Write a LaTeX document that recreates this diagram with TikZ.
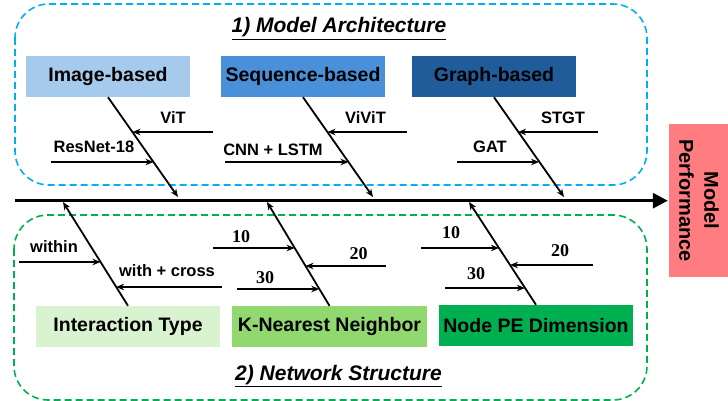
\documentclass[tikz,border=0pt]{standalone}
\usepackage{fontspec}
\setmainfont{Liberation Sans}
\newfontfamily\numfont{Liberation Serif}
\usetikzlibrary{arrows.meta,positioning,calc}
\definecolor{archblue}{HTML}{00B0F0}
\definecolor{netgreen}{HTML}{00B050}
\definecolor{imgc}{HTML}{A6CAEC}
\definecolor{seqc}{HTML}{4A90D9}
\definecolor{grc}{HTML}{1F5C99}
\definecolor{intc}{HTML}{D9F2D0}
\definecolor{knnc}{HTML}{92D870}
\definecolor{pec}{HTML}{00B050}
\definecolor{perfc}{HTML}{FF7C80}
\tikzset{
  cause/.style={minimum height=41pt,inner sep=0pt,font=\bfseries\fontsize{19.5}{22}\selectfont},
  bone/.style={line width=1.8pt,-{Stealth[length=8pt,width=6.5pt]}},
  twig/.style={line width=1.8pt,-{Stealth[length=8pt,width=6.5pt]}},
  lbl/.style={anchor=base,inner sep=0pt,font=\bfseries\fontsize{16.5}{18}\selectfont},
  numlbl/.style={anchor=base,inner sep=0pt,font=\numfont\bfseries\fontsize{18}{19}\selectfont},
  group/.style={line width=1.6pt,dash pattern=on 7pt off 4pt,rounded corners=34pt},
  grouptitle/.style={anchor=base,inner sep=0pt,font=\bfseries\itshape\fontsize{21}{24}\selectfont}
}
\begin{document}
\begin{tikzpicture}[x=1pt,y=-1pt]
\useasboundingbox (0,0) rectangle (728,401);
% group frames
\draw[group,archblue] (15,4) rectangle (647,185);
\draw[group,netgreen] (14,215) rectangle (647,400);
\node[grouptitle] (t1) at (339,33) {\underline{1) Model Architecture}};
\node[grouptitle] (t2) at (338.5,380) {\underline{2) Network Structure}};
% effect and spine
\node[fill=perfc,minimum width=153pt,minimum height=60pt,inner sep=0pt,rotate=-90,align=center,
  font=\bfseries\fontsize{20}{25}\selectfont] (perf) at (699,200.5) {Model\\Performance};
\coordinate (spineS) at (15,200.7);
\draw[line width=3pt,-{Triangle[length=15pt,width=15pt]},shorten >=1pt] (spineS) -- (perf.south |- spineS);
% causes
\node[cause,fill=imgc,minimum width=164pt] (img) at (108,76.5) {Image-based};
\node[cause,fill=seqc,minimum width=164pt] (seq) at (303,76.5) {Sequence-based};
\node[cause,fill=grc,minimum width=164pt] (gr) at (494,76.5) {Graph-based};
\node[cause,fill=intc,minimum width=184pt] (inter) at (128,326.5) {Interaction Type};
\node[cause,fill=knnc,minimum width=195pt] (knn) at (329.5,326.5) {K-Nearest Neighbor};
\node[cause,fill=pec,minimum width=194pt] (pe) at (536,325.5) {Node PE Dimension};
% bone tips on the spine
\foreach \n/\x/\y in {imgT/178/197,seqT/373/197,grT/564/197,interT/63/202,knnT/267/202,peT/469/202}
  \coordinate (\n) at (\x,\y);
\draw[bone] (img.south) -- (imgT);
\draw[bone] (seq.south) -- (seqT);
\draw[bone] (gr.south) -- (grT);
\draw[bone] (inter.north) -- (interT);
\draw[bone] (knn.north) -- (knnT);
\draw[bone] (pe.north) -- (peT);
% twigs: free end, point on bone
\foreach \n/\x/\y/\bx/\by in {vit/213/132/132.5/132,res/51/162/153.5/162,vivit/407/132/327.5/132,
  cnn/225/162/348.5/162,stgt/598/132/518/132,gat/457/162/539/162,
  within/19/262/100.5/262,cross/222/287/116.1/287,
  ka/213/248/294.6/248,kb/386/266/305.5/266,kc/237/289/319.3/289,
  pa/421/248/498.9/248,pb/593/265/510/265,pc/445/288/524.9/288}{
  \coordinate (\n S) at (\x,\y);
  \coordinate (\n E) at (\bx,\by);
  \draw[twig] (\n S) -- (\n E);
}
% twig labels
\node[lbl] (lvit) at (173,124) {ViT};
\node[lbl] (lres) at (94,153) {ResNet-18};
\node[lbl] (lvivit) at (365.5,124) {ViViT};
\node[lbl] (lcnn) at (273,155) {CNN + LSTM};
\node[lbl] (lstgt) at (563,124) {STGT};
\node[lbl] (lgat) at (490,153) {GAT};
\node[lbl] (lwithin) at (54,252.7) {within};
\node[lbl] (lcross) at (167,276.7) {with + cross};
\node[numlbl] (lka) at (241,242.3) {10};
\node[numlbl] (lkb) at (358.5,259) {20};
\node[numlbl] (lkc) at (265,283.3) {30};
\node[numlbl] (lpa) at (451,238.3) {10};
\node[numlbl] (lpb) at (560,256) {20};
\node[numlbl] (lpc) at (476,279.3) {30};
\end{tikzpicture}
\end{document}
